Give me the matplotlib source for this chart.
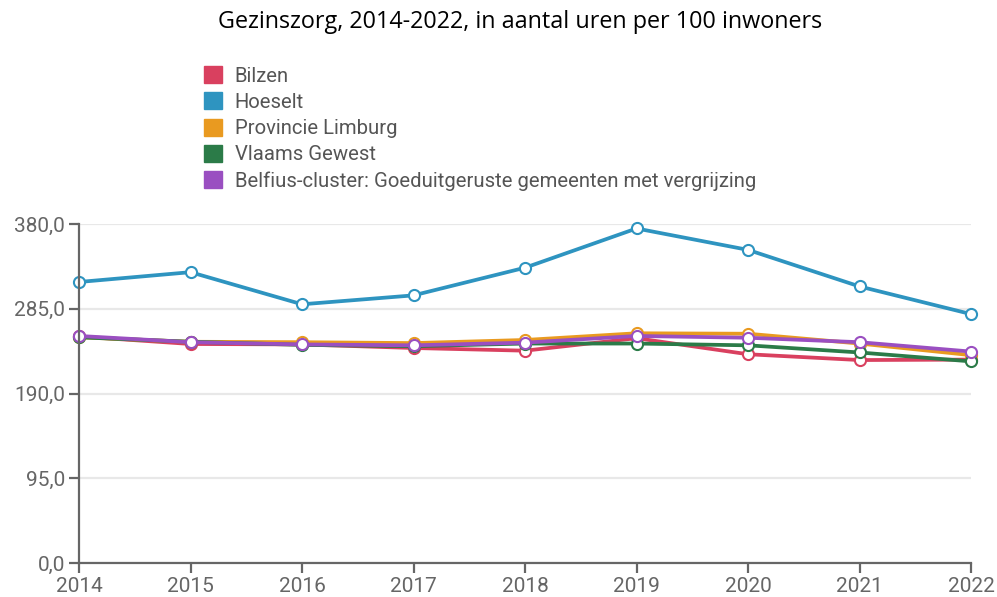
import matplotlib.pyplot as plt
from matplotlib.patches import Patch
from matplotlib.ticker import FuncFormatter

years = [2014, 2015, 2016, 2017, 2018, 2019, 2020, 2021, 2022]
names = ['Bilzen', 'Hoeselt', 'Provincie Limburg', 'Vlaams Gewest',
         'Belfius-cluster: Goeduitgeruste gemeenten met vergrijzing']
bilzen = [254, 245.5, 245, 241, 238, 252, 234, 227.5, 228]
hoeselt = [315, 326, 290, 300, 331, 375, 351, 310, 279]
limburg = [253, 248, 247.5, 246.5, 250, 257.5, 257, 246, 233]
vlaanderen = [253, 248, 244.5, 243, 246, 246, 244, 236, 226]
belfius = [254.5, 247.5, 245, 244, 247, 254.5, 252.5, 247.5, 237]
yticks = [0, 95, 190, 285, 380]

colors = ['#d9405f', '#2e94c0', '#e99a20', '#2b7b48', '#9a4fc1']
series = [bilzen, hoeselt, limburg, vlaanderen, belfius]

fig = plt.figure(figsize=(9.97, 5.97), dpi=100)
ax = fig.add_axes([79 / 997, 1 - 563 / 597, (971 - 79) / 997, (563 - 224) / 597])

for vals, col in zip(series, colors):
    ax.plot(years, vals, color=col, linewidth=2.7, marker='o', markersize=8,
            markerfacecolor='white', markeredgecolor=col, markeredgewidth=1.5,
            clip_on=False, solid_capstyle='round')

ax.set_xlim(2014, 2022)
ax.set_ylim(0, 380)
ax.set_xticks(years)
ax.set_yticks(yticks)
ax.yaxis.set_major_formatter(FuncFormatter(lambda v, p: f'{v:.1f}'.replace('.', ',')))
ax.grid(axis='y', color='#e8e8e8', linewidth=1.6)
ax.set_axisbelow(True)
for s in ['top', 'right']:
    ax.spines[s].set_visible(False)
for s in ['left', 'bottom']:
    ax.spines[s].set_color('#666666')
    ax.spines[s].set_linewidth(1.6)
ax.tick_params(colors='#666666', labelcolor='#666666', labelsize=15,
               length=7, width=1.6, direction='out', pad=3)
for lab in ax.get_xticklabels() + ax.get_yticklabels():
    lab.set_family('Roboto')

fig.text(520 / 997, 1 - 22 / 597, 'Gezinszorg, 2014-2022, in aantal uren per 100 inwoners',
         ha='center', va='center', fontsize=16.8, family='Open Sans', color='#000000')

handles = [Patch(facecolor=c, edgecolor=c) for c in colors]
leg = fig.legend(handles, names, loc='upper left', bbox_to_anchor=(196 / 997, 1 - 58 / 597),
                 frameon=False, prop={'family': 'Roboto', 'size': 14.6},
                 handlelength=0.9, handleheight=0.9, handletextpad=0.6,
                 labelspacing=0.34, borderaxespad=0)
for t in leg.get_texts():
    t.set_color('#555555')

fig.savefig('out.png', dpi=100)
